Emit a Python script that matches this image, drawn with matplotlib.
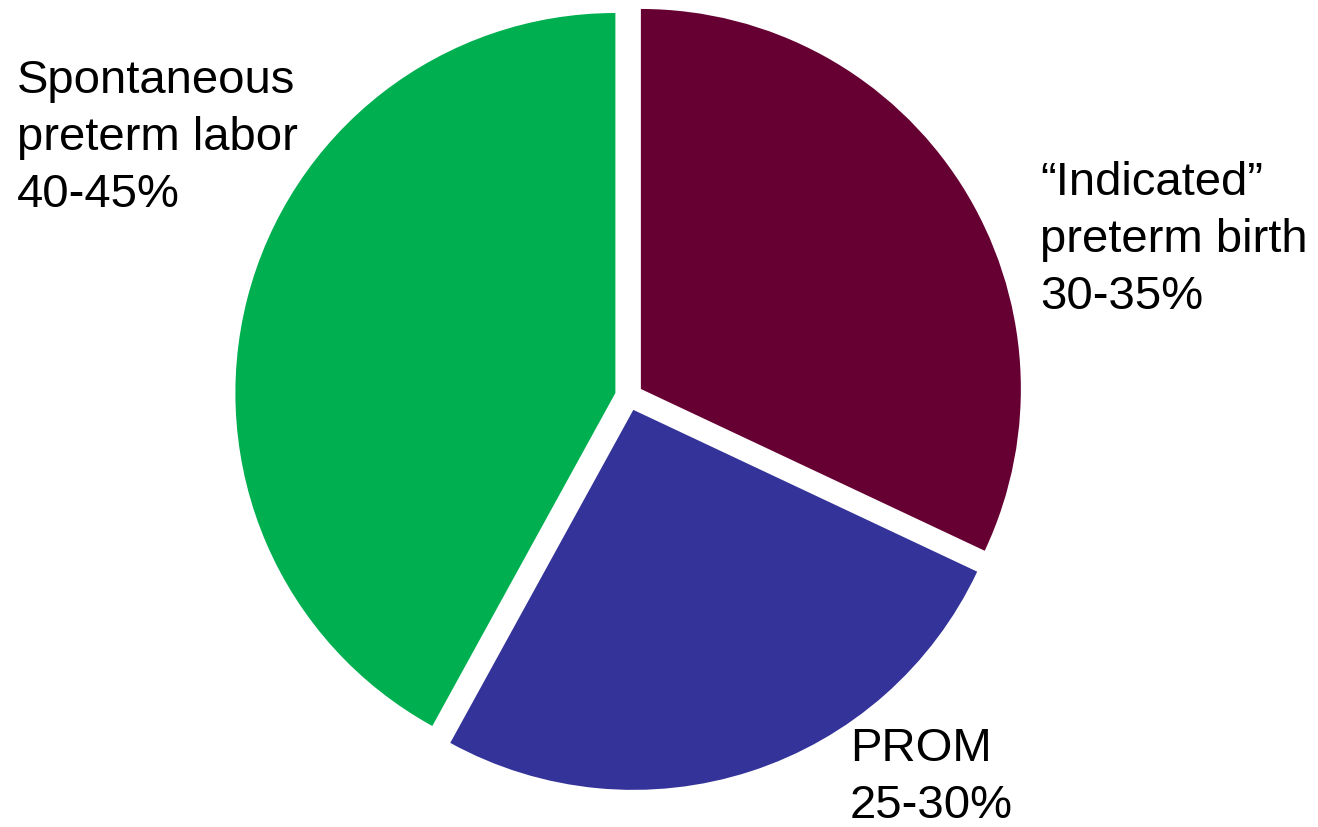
import matplotlib
matplotlib.use("Agg")
import matplotlib.pyplot as plt

# Causes of preterm birth (share of cases, %)
categories = ["\u201cIndicated\u201d\npreterm birth", "PROM", "Spontaneous\npreterm labor"]
ranges = ["30-35%", "25-30%", "40-45%"]
shares = [32, 26, 42]
colors = ["#660033", "#333399", "#00B050"]

W, H = 1318, 828
R_PX = 380.0          # pie radius in pixels
CX, CY = 629.0, 397.5  # pie centre in pixels (from top-left)

fig = plt.figure(figsize=(W / 100, H / 100), dpi=100)
ax = fig.add_axes([0, 0, 1, 1])
ax.axis("off")

ax.pie(shares, colors=colors, startangle=90, counterclock=False,
       radius=1.0, center=(0, 0), explode=[0.037] * 3,
       wedgeprops=dict(linewidth=0, antialiased=True))
ax.set_aspect("equal")
ax.set_xlim(-CX / R_PX, (W - CX) / R_PX)
ax.set_ylim(-(H - CY) / R_PX, CY / R_PX)


def px(x, y):
    return (x - CX) / R_PX, (CY - y) / R_PX


# anchor = left edge and baseline of the last line of each label
label_pos = [(1040, 309), (850, 818), (17, 207)]
font = dict(family="Liberation Sans", size=34, color="black")
for cat, rng, (lx, ly) in zip(categories, ranges, label_pos):
    x, y = px(lx, ly)
    ax.text(x, y, f"{cat}\n{rng}", ha="left", va="baseline",
            linespacing=1.38, **font)

fig.savefig("out.png", dpi=100, facecolor="white")
